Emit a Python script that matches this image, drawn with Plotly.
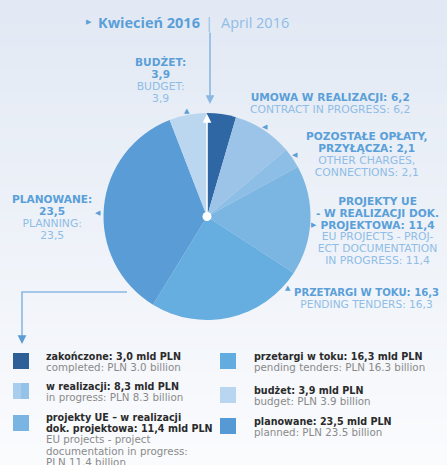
import plotly.graph_objects as go

# ---------------- data ----------------
slice_pl = ["ZAKOŃCZONE", "UMOWA W REALIZACJI", "POZOSTAŁE OPŁATY, PRZYŁĄCZA",
            "PROJEKTY UE - W REALIZACJI DOK. PROJEKTOWA", "PRZETARGI W TOKU",
            "PLANOWANE", "BUDŻET"]
slice_en = ["COMPLETED", "CONTRACT IN PROGRESS", "OTHER CHARGES, CONNECTIONS",
            "EU PROJECTS - PROJECT DOCUMENTATION IN PROGRESS", "PENDING TENDERS",
            "PLANNING", "BUDGET"]
slice_values = [3.0, 6.2, 2.1, 11.4, 16.3, 23.5, 3.9]

legend_pl = ["zakończone", "w realizacji", "projekty UE – w realizacji<br>dok. projektowa",
             "przetargi w toku", "budżet", "planowane"]
legend_en = ["completed", "in progress", "EU projects - project<br>documentation in progress:<br>",
             "pending tenders", "budget", "planned"]
legend_values = [3.0, 8.3, 11.4, 16.3, 3.9, 23.5]

title_pl = "Kwiecień 2016"
title_en = "April 2016"

# ---------------- styles ----------------
W, H = 447, 465
slice_colors = ["#2e67a4", "#9cc4e8", "#8dbee5", "#7bb5e1", "#66ade0", "#5a9dd6", "#bad7ef"]
BOLD_C = "#5a9fd8"
LIGHT_C = "#8fbde6"
LBL_FONT = "DejaVu Sans"
LG_FONT_B = "DejaVu Sans"
LG_FONT_L = "DejaVu Sans"


def pc(v):
    return f"{v:.1f}".replace(".", ",")


def px(x):
    return x / W


def py(y):
    return 1 - y / H


fig = go.Figure()

cx, cy, r = 207, 216.5, 103.5
fig.add_trace(go.Pie(
    labels=[f"{a} / {b}" for a, b in zip(slice_pl, slice_en)], values=slice_values,
    sort=False, direction="clockwise", rotation=0,
    marker=dict(colors=slice_colors, line=dict(width=0)),
    textinfo="none", hoverinfo="label+value", showlegend=False,
    domain=dict(x=[px(cx - r), px(cx + r)], y=[py(cy + r), py(cy - r)]),
))

shapes = []
# background gradient
top = (226, 233, 244)
bot = (250, 251, 253)
n = 40
for i in range(n):
    t = i / (n - 1)
    c = tuple(round(top[k] + (bot[k] - top[k]) * t) for k in range(3))
    shapes.append(dict(type="rect", xref="paper", yref="paper", layer="below",
                       x0=0, x1=1, y0=1 - (i + 1) / n - 0.002, y1=1 - i / n,
                       fillcolor=f"rgb{c}", line=dict(width=0)))

annotations = []


def txt(x, y, s, size=10.5, color=BOLD_C, bold=False, xanchor="center", family=LBL_FONT):
    annotations.append(dict(
        x=px(x), y=py(y), xref="paper", yref="paper", showarrow=False,
        text=(f"<b>{s}</b>" if bold else s), xanchor=xanchor, yanchor="middle",
        font=dict(family=family, size=size, color=color)))


def block(x, yc, lines, spacing, xanchor="center", align="center"):
    """lines: list of (text, bold, color, size, family); spacing in px between lines"""
    parts = []
    for s, b, col, sz, fam in lines:
        inner = f"<b>{s}</b>" if b else s
        parts.append(f"<span style=\"font-size:{sz}px;color:{col};font-family:'{fam}'\">{inner}</span>")
    annotations.append(dict(
        x=px(x), y=py(yc), xref="paper", yref="paper", showarrow=False,
        text="<br>".join(parts), xanchor=xanchor, yanchor="middle", align=align,
        font=dict(family=lines[0][4], size=spacing / 1.3, color=lines[0][2])))


def tri(x, y, ch, size=8, color=BOLD_C):
    annotations.append(dict(
        x=px(x), y=py(y), xref="paper", yref="paper", showarrow=False,
        text=ch, xanchor="center", yanchor="middle",
        font=dict(family="DejaVu Sans", size=size, color=color)))


# title
tri(89, 22, "▶", size=7)
txt(96, 22, title_pl, size=14.5, bold=True, xanchor="left", family="Open Sans")
txt(209, 22, "|", size=15, color=LIGHT_C, family="Open Sans")
txt(219, 22, title_en, size=14.5, color=LIGHT_C, xanchor="left", family="Open Sans")

# top arrow line
annotations.append(dict(x=px(210), y=py(104), xref="paper", yref="paper",
                        ax=0, ay=-73, text="", showarrow=True, arrowhead=2,
                        arrowsize=1.1, arrowwidth=1.6, arrowcolor="#8ab8e3"))
# white arrow from centre to top
annotations.append(dict(x=px(cx), y=py(cy - r + 1), xref="paper", yref="paper",
                        ax=0, ay=r - 1, text="", showarrow=True, arrowhead=2,
                        arrowsize=1.1, arrowwidth=1.6, arrowcolor="white"))
shapes.append(dict(type="circle", xref="paper", yref="paper", xsizemode="pixel",
                   ysizemode="pixel", xanchor=px(cx), yanchor=py(cy),
                   x0=-4.5, x1=4.5, y0=-4.5, y1=4.5, fillcolor="white",
                   line=dict(width=0), layer="above"))

# left connector line
shapes.append(dict(type="path", xref="paper", yref="paper",
                   path=f"M {px(127)} {py(292)} L {px(22)} {py(292)} L {px(22)} {py(338)}",
                   line=dict(color="#8ab8e3", width=1.6)))
annotations.append(dict(x=px(22), y=py(344), xref="paper", yref="paper",
                        ax=0, ay=-8, text="", showarrow=True, arrowhead=2,
                        arrowsize=1.1, arrowwidth=1.6, arrowcolor="#5a9dd6"))

BS, LS = 10.6, 10.8  # bold / light label sizes
SP = 12.0


def B(s, sz=BS):
    return (s, True, BOLD_C, sz, LBL_FONT)


def L(s, sz=LS):
    return (s, False, LIGHT_C, sz, LBL_FONT)


v = slice_values
# BUDŻET
block(160, 80, [B(f"{slice_pl[6]}:"), B(pc(v[6])), L(f"{slice_en[6]}:"), L(pc(v[6]))], SP)
tri(187, 111, "▲", 7)
# UMOWA
block(330, 104, [B(f"{slice_pl[1]}: {pc(v[1])}"), L(f"{slice_en[1]}: {pc(v[1])}")], SP)
tri(265, 127, "◀", 7)
# POZOSTAŁE
block(367, 154.5, [B("POZOSTAŁE OPŁATY,"), B(f"PRZYŁĄCZA: {pc(v[2])}"),
                   L("OTHER CHARGES,"), L(f"CONNECTIONS: {pc(v[2])}")], SP)
tri(295, 155, "◀", 7)
# PROJEKTY UE
block(377, 231.5, [B("PROJEKTY UE"), B("- W REALIZACJI DOK."), B(f"PROJEKTOWA: {pc(v[3])}"),
                   L("EU PROJECTS - PROJ-"), L("ECT DOCUMENTATION"),
                   L(f"IN PROGRESS: {pc(v[3])}")], 11.8)
tri(314, 225, "▶", 7)
# PRZETARGI
block(366, 298, [B(f"{slice_pl[4]}: {pc(v[4])}", 10.1), L(f"{slice_en[4]}: {pc(v[4])}", 10.6)], SP)
tri(288, 288, "▲", 7)
# PLANOWANE
block(52, 218, [B(f"{slice_pl[5]}:"), B(pc(v[5])), L(f"{slice_en[5]}:"), L(pc(v[5]))], SP)
tri(98, 213, "◀", 7)

# ---------------- legend ----------------
LG_BOLD = "#2b2b2b"
LG_LIGHT = "#8a8a8a"
LGB, LGL = 9.6, 10.3
legend_colors = ["#2e5f96", None, "#79b4e2", "#62ace0", "#b8d6ef", "#5599d5"]
legend_pos = [(13, 353, 44), (13, 383, 44), (13, 415, 44),
              (220, 353, 252), (220, 387, 252), (220, 418, 252)]
LSP = 11.2
for i, (sx, sy, tx) in enumerate(legend_pos):
    if legend_colors[i] is None:
        shapes.append(dict(type="rect", xref="paper", yref="paper",
                           x0=px(sx), x1=px(sx + 8), y0=py(sy + 16), y1=py(sy),
                           fillcolor="#a9cdec", line=dict(width=0)))
        shapes.append(dict(type="rect", xref="paper", yref="paper",
                           x0=px(sx + 8), x1=px(sx + 16), y0=py(sy + 16), y1=py(sy),
                           fillcolor="#94c2e8", line=dict(width=0)))
    else:
        shapes.append(dict(type="rect", xref="paper", yref="paper",
                           x0=px(sx), x1=px(sx + 16), y0=py(sy + 16), y1=py(sy),
                           fillcolor=legend_colors[i], line=dict(width=0)))
    val = legend_values[i]
    pl_lines = f"{legend_pl[i]}: {pc(val)} mld PLN".split("<br>")
    en_lines = f"{legend_en[i]}{'' if i == 2 else ':'} PLN {val:.1f} billion".split("<br>")
    en_lines = [s.strip() for s in en_lines]
    lines = [(s, True, LG_BOLD, LGB, LG_FONT_B) for s in pl_lines] + \
            [(s, False, LG_LIGHT, LGL, LG_FONT_L) for s in en_lines]
    nl = len(lines)
    top_y = sy + 3
    block(tx, top_y + (nl - 1) * LSP / 2, lines, LSP, xanchor="left", align="left")

fig.update_layout(
    width=W, height=H, margin=dict(l=0, r=0, t=0, b=0),
    paper_bgcolor="rgb(250,251,253)", plot_bgcolor="rgba(0,0,0,0)",
    shapes=shapes, annotations=annotations, showlegend=False,
)
fig.write_html("out.html", config={"displayModeBar": False},
               post_script="document.body.style.margin='0';document.body.style.overflow='hidden';")
